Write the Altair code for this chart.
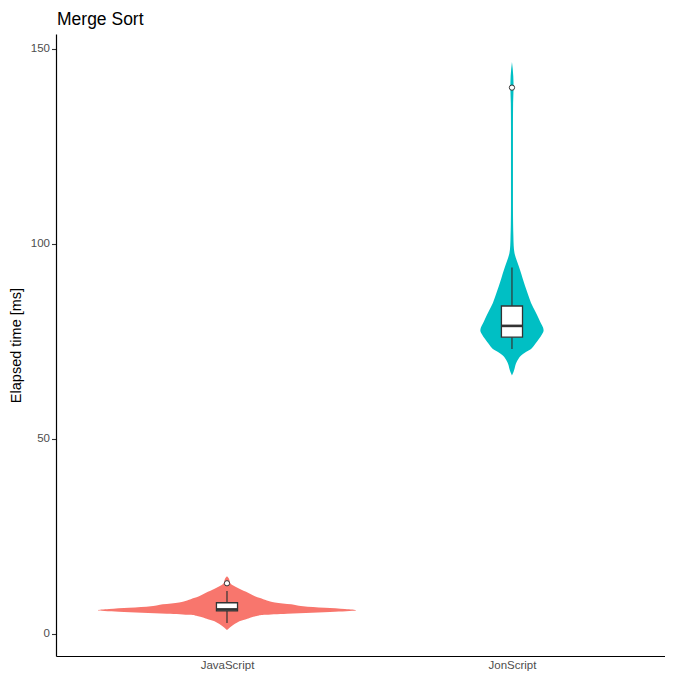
import altair as alt
import pandas as pd

# ---- data ----
categories = ["JavaScript", "JonScript"]
colors = ["#F8766D", "#00BFC4"]

# violin outlines: value (ms) and half-width (in category units)
js_y = [0.9, 1.5, 2.0, 2.5, 3.0, 3.3, 3.7, 4.15, 4.5, 4.8, 5.1, 5.35, 5.6, 6.0,
        6.3, 6.6, 7.0, 7.5, 8.0, 8.5, 9.1, 9.6, 10.1, 10.7, 11.3, 11.8, 12.2,
        12.6, 13.0, 13.6, 14.2, 14.7]
js_hw = [0.0, 0.009, 0.018, 0.028, 0.039, 0.049, 0.067, 0.084, 0.105, 0.130,
         0.211, 0.298, 0.379, 0.453, 0.414, 0.344, 0.267, 0.225, 0.168, 0.140,
         0.116, 0.098, 0.084, 0.067, 0.049, 0.035, 0.025, 0.016, 0.011, 0.009,
         0.006, 0.0]

jon_y = [66.2, 67.0, 67.9, 68.8, 69.6, 70.5, 71.3, 72.2, 73.0, 74.3, 75.6, 76.7,
         77.7, 78.5, 79.5, 80.6, 82.7, 84.8, 87.0, 89.1, 91.2, 93.3, 95.4, 97.5,
         99.5, 101.8, 105.0, 110.0, 120.0, 130.0, 136.0, 140.0, 143.0, 146.6]
jon_hw = [0.0, 0.005, 0.009, 0.012, 0.016, 0.023, 0.032, 0.049, 0.067, 0.082,
          0.095, 0.105, 0.111, 0.109, 0.102, 0.095, 0.081, 0.067, 0.056, 0.046,
          0.037, 0.028, 0.018, 0.009, 0.006, 0.005, 0.004, 0.0035, 0.0035,
          0.0035, 0.004, 0.0056, 0.0046, 0.0]

# box plot statistics
box_lower = [2.7, 73.0]
box_q1 = [5.8, 76.0]
box_median = [6.2, 78.9]
box_q3 = [7.9, 84.0]
box_upper = [10.9, 93.9]

outlier_cat = ["JavaScript", "JonScript"]
outlier_val = [12.9, 140.0]

y_ticks = [0, 50, 100, 150]

# ---- tables ----
def violin_table(cat, ys, hws):
    pos = categories.index(cat) + 1
    return pd.DataFrame({
        "cat": cat,
        "y": ys,
        "xl": [pos - h for h in hws],
        "xr": [pos + h for h in hws],
    })

bdf = pd.DataFrame({
    "cat": categories,
    "pos": [1, 2],
    "lower": box_lower,
    "q1": box_q1,
    "median": box_median,
    "q3": box_q3,
    "upper": box_upper,
})

odf = pd.DataFrame({
    "cat": outlier_cat,
    "pos": [categories.index(c) + 1 for c in outlier_cat],
    "val": outlier_val,
})

FONT = "Liberation Sans"
label_expr = "[" + ",".join("'%s'" % c for c in categories) + "][datum.value - 1]"

xscale = alt.Scale(domain=[0.4, 2.537], nice=False, zero=False)
yscale = alt.Scale(domain=[-5.75, 153.75], nice=False, zero=False)

xaxis = alt.Axis(values=[1, 2], labelExpr=label_expr, title=None, ticks=False,
                 grid=False, domainColor="black", domainWidth=1.2,
                 labelColor="#4D4D4D", labelFontSize=11.5, labelFont=FONT,
                 labelPadding=3)
yaxis = alt.Axis(values=y_ticks, title="Elapsed time [ms]", grid=False,
                 domainColor="black", domainWidth=1.2, tickColor="#333333",
                 tickWidth=1.1, tickSize=4.5, labelColor="#4D4D4D",
                 labelFontSize=11.5, labelFont=FONT, labelPadding=2,
                 titleFont=FONT, titleFontSize=14.5, titleFontWeight="normal",
                 titleColor="black", titlePadding=7)

layers = []
for cat, ys, hws, col in [(categories[0], js_y, js_hw, colors[0]),
                          (categories[1], jon_y, jon_hw, colors[1])]:
    layers.append(
        alt.Chart(violin_table(cat, ys, hws)).mark_area(
            orient="horizontal", interpolate="monotone", color=col, opacity=1
        ).encode(
            y=alt.Y("y:Q", scale=yscale, axis=yaxis),
            x=alt.X("xl:Q", scale=xscale, axis=xaxis),
            x2="xr:Q",
        )
    )

whisker = alt.Chart(bdf).mark_rule(color="#333333", strokeWidth=1.2).encode(
    x=alt.X("pos:Q", scale=xscale, axis=xaxis),
    y=alt.Y("lower:Q", scale=yscale, axis=yaxis),
    y2="upper:Q",
)

box = alt.Chart(bdf).transform_calculate(
    bl="datum.pos - 0.037", br="datum.pos + 0.037"
).mark_rect(fill="white", stroke="#333333", strokeWidth=1.3).encode(
    x=alt.X("bl:Q", scale=xscale, axis=xaxis),
    x2="br:Q",
    y=alt.Y("q1:Q", scale=yscale, axis=yaxis),
    y2="q3:Q",
)

median = alt.Chart(bdf).transform_calculate(
    bl="datum.pos - 0.037", br="datum.pos + 0.037"
).mark_rule(color="#333333", strokeWidth=2.6).encode(
    x=alt.X("bl:Q", scale=xscale, axis=xaxis),
    x2="br:Q",
    y=alt.Y("median:Q", scale=yscale, axis=yaxis),
)

outliers = alt.Chart(odf).mark_point(
    shape="circle", filled=True, fill="white", stroke="#333333",
    strokeWidth=1, size=28, opacity=1
).encode(
    x=alt.X("pos:Q", scale=xscale, axis=xaxis),
    y=alt.Y("val:Q", scale=yscale, axis=yaxis),
)

chart = alt.layer(*layers, whisker, box, median, outliers).properties(
    width=609,
    height=622,
    autosize=alt.AutoSizeParams(type="none"),
    padding={"left": 48, "top": 26, "right": 0, "bottom": 15},
    background="white",
    title=alt.Title("Merge Sort", anchor="start", frame="group", fontSize=17.5,
                    fontWeight="normal", font=FONT, color="black", offset=6,
                    dx=1),
).configure_view(stroke=None)

chart.save("out.html", embed_options={"renderer": "svg", "actions": False})
